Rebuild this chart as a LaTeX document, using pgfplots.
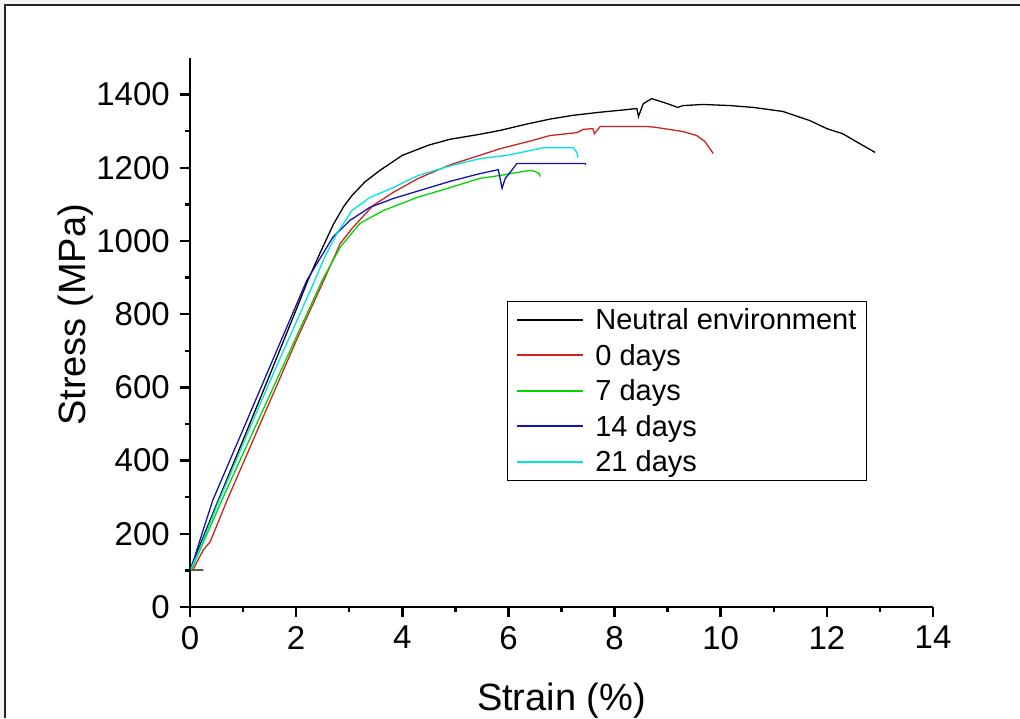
\documentclass[border=0pt]{standalone}
\usepackage{pgfplots}
\pgfplotsset{compat=1.18}
\usepackage{fontspec}
\setmainfont{Liberation Sans}
\definecolor{cRed}{RGB}{205,35,35}
\definecolor{cGreen}{RGB}{0,215,0}
\definecolor{cBlue}{RGB}{20,20,180}
\definecolor{cCyan}{RGB}{0,228,228}
\begin{document}
\begin{tikzpicture}[x=1pt,y=1pt]
\path[use as bounding box] (-190,-111) rectangle (830,607);
\fill[gray!8] (-190,-111) rectangle (830,607);
\fill[white] (-185,-111) rectangle (830,602);
\draw[line width=2pt, black!85] (-185,-111) -- (-185,602) -- (830,602);
\begin{axis}[
  at={(0,0)}, anchor=south west,
  scale only axis, width=743pt, height=549pt,
  xmin=0, xmax=14, ymin=0, ymax=1500,
  axis x line=bottom, axis y line=left,
  axis line style={-, line width=2.5pt},
  xtick={0,2,...,14}, ytick={0,200,...,1400},
  minor x tick num=1, minor y tick num=1,
  tick align=outside, major tick length=10pt, minor tick length=5pt,
  every tick/.style={black, line width=2.5pt},
  /pgf/number format/assume math mode=true,
  /pgf/number format/1000 sep={},
  tick label style={font=\fontsize{33}{39}\selectfont, inner sep=0pt},
  yticklabel style={xshift=-10pt},
  xticklabel style={yshift=-9pt},
  xlabel={Strain (\%)}, ylabel={Stress (MPa)},
  label style={font=\fontsize{38}{45}\selectfont},
  xlabel style={at={(axis description cs:0.5,-0.1876)}, anchor=base},
  ylabel style={at={(axis description cs:-0.1413,0.532)}, anchor=base},
  legend cell align=left,
  legend image code/.code={\draw[#1, line width=1.8pt] (0pt,0pt) -- (66pt,0pt);},
  legend style={at={(axis description cs:0.4266,0.5574)}, anchor=north west,
    draw=black, line width=1.2pt, font=\fontsize{29}{35}\selectfont,
    inner xsep=9pt, inner ysep=6pt, row sep=11pt, column sep=10pt,
    nodes={inner sep=1pt}},
  every axis plot/.append style={line width=1.3pt},
]
\addplot[black] coordinates {(0.25,101) (0,101) (0.05,120) (0.5,280) (1,456) (1.5,633) (2,812) (2.22,892) (2.45,967) (2.7,1045) (2.9,1095) (3.05,1124) (3.3,1162) (3.58,1193) (4.0,1234) (4.5,1262) (4.9,1278) (5.4,1290) (5.84,1302) (6.3,1318) (6.78,1333) (7.2,1343) (7.67,1351) (8.23,1359) (8.42,1362) (8.45,1340) (8.54,1375) (8.70,1389) (8.98,1376) (9.19,1365) (9.29,1370) (9.67,1373) (10.18,1370) (10.61,1365) (11.17,1354) (11.68,1329) (12.0,1307) (12.3,1293) (12.62,1266) (12.91,1242)};
\addlegendentry{Neutral environment}
\addplot[cRed] coordinates {(0.05,100) (0.25,156) (0.38,178) (0.7,292) (1.5,560) (2.0,727) (2.52,892) (2.83,993) (3.07,1037) (3.45,1097) (3.83,1133) (4.3,1171) (4.9,1208) (5.46,1234) (5.84,1252) (6.46,1275) (6.78,1288) (7.29,1296) (7.41,1305) (7.59,1307) (7.62,1293) (7.73,1313) (8.61,1313) (8.8,1310) (9.29,1299) (9.55,1288) (9.7,1272) (9.86,1239)};
\addlegendentry{0 days}
\addplot[cGreen] coordinates {(0.02,100) (0.6,292) (1.5,578) (2.0,737) (2.49,892) (2.83,983) (3.2,1048) (3.64,1083) (4.28,1119) (4.9,1146) (5.46,1171) (5.84,1179) (6.16,1187) (6.41,1193) (6.5,1190) (6.58,1184) (6.6,1176)};
\addlegendentry{7 days}
\addplot[cBlue] coordinates {(0.03,110) (0.23,202) (0.43,292) (1.0,485) (1.5,655) (2.2,892) (2.69,1010) (3.01,1056) (3.39,1092) (3.83,1116) (4.33,1138) (4.9,1163) (5.46,1184) (5.65,1190) (5.81,1195) (5.88,1144) (5.94,1171) (6.03,1187) (6.16,1212) (6.37,1212) (6.97,1212) (7.44,1212) (7.46,1209)};
\addlegendentry{14 days}
\addplot[cCyan] coordinates {(0.02,105) (0.15,147) (0.55,292) (1.5,615) (2.35,892) (2.55,960) (2.77,1021) (3.05,1083) (3.39,1119) (3.83,1146) (4.3,1179) (4.9,1205) (5.46,1225) (5.97,1234) (6.41,1247) (6.65,1255) (7.22,1255) (7.29,1242) (7.31,1228)};
\addlegendentry{21 days}
\end{axis}
\end{tikzpicture}
\end{document}
